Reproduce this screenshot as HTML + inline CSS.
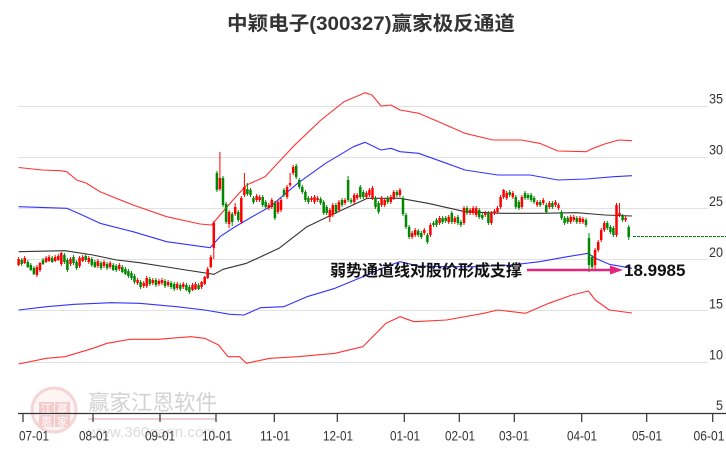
<!DOCTYPE html>
<html>
<head>
<meta charset="utf-8">
<style>
html,body{margin:0;padding:0;background:#fff;}
svg{display:block;}
</style>
</head>
<body>
<svg width="726" height="450" viewBox="0 0 726 450" xmlns="http://www.w3.org/2000/svg">
<rect width="726" height="450" fill="#fff"/>

<!-- watermark -->
<g>
<circle cx="54" cy="410" r="22" fill="#fdf4f4" stroke="#f5d6d6" stroke-width="3"/>
<rect x="39" y="402" width="15" height="12" fill="#f5cccc"/>
<rect x="55" y="402" width="15" height="12" fill="#f5cccc"/>
<rect x="39" y="415" width="15" height="12" fill="#f5cccc"/>
<rect x="55" y="415" width="15" height="12" fill="#f5cccc"/>
<g font-family="'Noto Sans CJK SC',sans-serif" font-size="11" fill="#fff" text-anchor="middle">
<text x="46.5" y="412.5">江</text><text x="62.5" y="412.5">赢</text>
<text x="46.5" y="425.5">恩</text><text x="62.5" y="425.5">家</text>
</g>
<text x="88" y="410" font-family="'Liberation Sans','Noto Sans CJK SC',sans-serif" font-size="21.5" fill="#d2d2d2">赢家江恩软件</text>
<line x1="88" y1="419" x2="216" y2="419" stroke="#eed0d0" stroke-width="2"/>
<text x="88" y="437" font-family="'Liberation Sans',sans-serif" font-size="15" fill="#dcdcdc" textLength="128" lengthAdjust="spacingAndGlyphs">www.360gann.com</text>
</g>

<!-- grid -->
<g stroke="#e2e2e2" stroke-width="1">
<line x1="18" y1="106.5" x2="708" y2="106.5"/>
<line x1="18" y1="157.5" x2="708" y2="157.5"/>
<line x1="18" y1="208.5" x2="708" y2="208.5"/>
<line x1="18" y1="259.5" x2="708" y2="259.5"/>
<line x1="18" y1="310.5" x2="708" y2="310.5"/>
<line x1="18" y1="362.5" x2="708" y2="362.5"/>
</g>

<!-- y labels -->
<g font-family="'Liberation Sans',sans-serif" font-size="14" fill="#333" text-anchor="end">
<text x="723" y="103.5" textLength="14" lengthAdjust="spacingAndGlyphs">35</text>
<text x="723" y="154.7" textLength="14" lengthAdjust="spacingAndGlyphs">30</text>
<text x="723" y="205.8" textLength="14" lengthAdjust="spacingAndGlyphs">25</text>
<text x="723" y="257" textLength="14" lengthAdjust="spacingAndGlyphs">20</text>
<text x="723" y="308.3" textLength="14" lengthAdjust="spacingAndGlyphs">15</text>
<text x="723" y="359.5" textLength="14" lengthAdjust="spacingAndGlyphs">10</text>
<text x="723" y="410" textLength="7" lengthAdjust="spacingAndGlyphs">5</text>
</g>

<!-- channel lines -->
<g fill="none" stroke-width="1.1" stroke-linejoin="round">
<polyline stroke="#f33" points="18.6,167.5 41.9,170 60.5,170.7 66.7,171.7 76.7,180 86,183 100,191.7 133,205 166.7,216.7 200,224 211.7,225 220,215 233,200 246.7,185 265,176.7 293,146.7 321,120 344,101.7 365,92.7 372,95 381,106 391,105 400,110 418.6,113.3 442,123.3 465,133.3 493,140 521,140 539.5,143.3 558,151 586,151.7 593,148.3 604.7,144 618.6,140 632,140.7"/>
<polyline stroke="#33f" points="18.6,206.7 66.7,208.3 80,214 100,223.3 133,231.7 166.7,241.7 210,247.7 220,236.7 233,228 250,218 270,206.7 297.7,183.3 325.6,163.3 353.5,146.7 365,142.3 381,150 391,148.3 400,151.7 418.6,153.3 446.5,163.3 465,170 497.7,175 530,175 558,180 586,179 614,176.7 632,175.7"/>
<polyline stroke="#333" points="18.6,251.7 65,250.7 93,255 116.7,260 139.5,262.7 186,270 214,274.3 223,269.3 246.5,263.3 279,248.3 307,226.7 335,213.3 367.4,198.3 400,198.3 428,203.3 465,211.7 502,213.3 539.5,213.3 576.7,212.7 604.7,215 632,216"/>
<polyline stroke="#33f" points="18.6,310 46.5,306.7 74.4,304.3 111.6,302.7 139.5,303.3 176.7,306.7 204.7,310 230,314.3 244,315 260.5,307.7 283.7,306.7 307,296.7 335,288.3 362.8,276.7 386,266.7 400,261.7 418.6,266 446.5,266.7 474.4,266.7 511.6,265 539.5,261.7 567.4,256.7 588.4,253.3 595.3,258.3 609.3,264.3 632,268.3"/>
<polyline stroke="#f33" points="18.6,364 46.5,358.3 65,356.7 93,348.3 107,343.3 130,339.3 158,339.3 190.7,336.7 204.7,338.3 218.6,345 228,356.7 239.5,356.7 246.5,363.3 270,358.3 297.7,356.7 335,353.3 362.8,346.7 386,323.3 400,316.7 414,321.7 446.5,320 483.7,313.3 497.7,310 525.6,313.3 548.8,303.3 572,295 588.4,291 595.3,300 609.3,310 632,313"/>
</g>

<!-- candles -->
<path fill="none" stroke="#f00" stroke-width="1" d="M18.6 257V266M24.7 256V264M36.9 265V277M40 262V272M46.1 256V263M49.1 255V262M55.2 255V262M58.3 254V261M61.3 252V266M70.5 257V266M79.6 256V268M82.7 255V262M88.8 256V264M97.9 259V268M104 260V268M110.1 261V269M119.3 263V271M137.6 278V285M143.7 281V288M146.7 276V288M152.8 278V285M158.9 279V286M162 278V285M168.1 280V287M177.2 282V290M183.3 282V289M192.5 283V291M195.5 282V290M201.6 281V289M204.7 276V285M207.7 267V279M210.8 255V268M213.8 221V259M219.9 152V191M229.1 210V228M235.2 203V216M241.3 196V224M244.4 173V197M256.6 194V202M259.6 195V202M268.8 203V210M271.8 198V209M277.9 200V214M281 198V212M287.1 185V199M290.1 173V187M293.2 165V175M311.5 196V202M314.5 195V204M317.6 196V202M329.8 208V222M332.8 203V217M338.9 200V212M345 198V205M354.2 193V204M357.2 193V200M366.4 191V199M369.4 188V197M372.5 186V200M381.6 196V207M384.7 198V207M390.8 195V204M393.8 190V200M399.9 188V197M412.1 231V239M415.2 228V237M424.3 228V235M430.4 223V237M439.6 216V225M448.7 215V224M454.8 216V224M464 206V225M470.1 208V215M473.1 206V215M476.2 206V217M485.3 211V217M491.4 211V225M494.5 209V215M497.5 206V214M500.6 195V209M503.6 189V199M506.7 191V200M512.8 191V199M521.9 195V209M537.2 200V207M543.3 198V205M549.4 201V209M555.5 200V207M558.5 203V210M570.7 215V224M573.8 215V222M579.9 216V224M582.9 217V224M595.1 248V271M598.2 240V252M601.2 228V242M604.3 221V232M616.5 203V237M619.5 203V217M625.6 216V222"/>
<path fill="none" stroke="#f00" stroke-width="2.5" d="M18.6 259V265M24.7 258V263M36.9 267V275M40 263V270M46.1 258V262M49.1 257V261M55.2 257V261M58.3 256V260M61.3 253V264M70.5 259V264M79.6 258V266M82.7 257V261M88.8 258V262M97.9 261V266M104 262V266M110.1 263V267M119.3 265V269M137.6 280V283M143.7 283V286M146.7 278V286M152.8 280V283M158.9 281V284M162 280V283M168.1 282V285M177.2 284V288M183.3 284V287M192.5 285V290M195.5 284V289M201.6 282V287M204.7 277V284M207.7 269V278M210.8 257V267M213.8 223V248M219.9 178V189M229.1 212V224M235.2 207V214M241.3 198V222M244.4 187V195M256.6 196V200M259.6 197V200M268.8 205V208M271.8 200V207M277.9 202V212M281 200V210M287.1 187V197M290.1 183V185M293.2 167V173M311.5 198V200M314.5 197V202M317.6 198V200M329.8 210V217M332.8 205V215M338.9 202V210M345 200V203M354.2 195V202M357.2 195V198M366.4 193V197M369.4 190V195M372.5 188V198M381.6 198V205M384.7 200V205M390.8 197V202M393.8 192V198M399.9 190V195M412.1 233V237M415.2 230V235M424.3 230V233M430.4 225V235M439.6 218V223M448.7 217V222M454.8 218V222M464 208V223M470.1 210V213M473.1 208V213M476.2 208V215M485.3 213V215M491.4 213V223M494.5 211V213M497.5 208V212M500.6 197V207M503.6 190V197M506.7 193V198M512.8 193V197M521.9 197V207M537.2 202V205M543.3 200V203M549.4 203V207M555.5 202V205M558.5 205V208M570.7 217V222M573.8 217V220M579.9 218V222M582.9 219V222M595.1 250V265M598.2 242V250M601.2 230V240M604.3 223V230M616.5 205V235M619.5 213V215M625.6 218V220"/>
<path fill="none" stroke="#080" stroke-width="1" d="M21.7 258V266M27.8 260V268M30.8 263V271M33.9 266V275M43 258V265M52.2 256V263M64.4 253V264M67.4 258V272M73.5 255V265M76.6 260V270M85.7 254V262M91.8 257V267M94.9 260V268M101 261V270M107.1 262V270M113.2 263V271M116.2 264V272M122.3 265V273M125.4 267V275M128.4 269V278M131.5 271V280M134.5 274V284M140.6 280V289M149.8 277V286M155.9 278V287M165 279V288M171.1 281V289M174.2 282V291M180.3 283V291M186.4 283V291M189.4 285V294M198.6 283V290M216.9 171V192M223 176V207M226.1 202V224M232.2 212V226M238.3 210V222M247.4 183V196M250.5 188V197M253.5 196V204M262.7 195V207M265.7 200V209M274.9 201V220M284 188V197M296.2 164V179M299.3 178V189M302.3 185V194M305.4 190V202M308.4 196V204M320.6 197V205M323.7 200V215M326.7 205V215M335.9 203V214M342 198V207M348.1 176V202M351.1 198V204M360.3 185V199M363.3 190V199M375.5 196V209M378.6 201V214M387.7 196V204M396.9 190V197M403 196V216M406 213V229M409.1 225V239M418.2 229V237M421.3 231V239M427.4 233V244M433.5 221V227M436.5 218V227M442.6 216V224M445.7 216V223M451.8 211V224M457.9 215V225M460.9 220V227M467 206V215M479.2 208V219M482.3 213V220M488.4 211V225M509.7 190V197M515.8 195V209M518.9 200V210M525 191V200M528 193V200M531.1 193V202M534.1 196V204M540.2 200V207M546.3 203V214M552.4 201V209M561.6 210V220M564.6 216V225M567.7 216V224M576.8 216V224M586 218V227M589 233V272M592.1 255V270M607.3 221V230M610.4 225V234M613.4 226V237M622.6 214V222M628.7 225V240"/>
<path fill="none" stroke="#080" stroke-width="2.5" d="M21.7 260V264M27.8 262V267M30.8 265V270M33.9 268V274M43 260V264M52.2 258V262M64.4 255V262M67.4 260V270M73.5 257V263M76.6 262V268M85.7 256V260M91.8 259V265M94.9 262V267M101 263V268M107.1 264V268M113.2 265V270M116.2 266V270M122.3 267V272M125.4 269V274M128.4 271V276M131.5 273V278M134.5 276V282M140.6 282V287M149.8 279V284M155.9 280V285M165 281V286M171.1 283V287M174.2 284V289M180.3 285V289M186.4 285V290M189.4 287V292M198.6 285V289M216.9 173V190M223 178V205M226.1 204V222M232.2 214V222M238.3 212V220M247.4 189V194M250.5 190V195M253.5 198V202M262.7 197V205M265.7 202V207M274.9 203V218M284 190V195M296.2 166V177M299.3 180V187M302.3 187V192M305.4 192V200M308.4 198V202M320.6 199V203M323.7 202V213M326.7 207V213M335.9 205V212M342 200V205M348.1 180V200M351.1 200V202M360.3 187V197M363.3 192V197M375.5 198V207M378.6 203V212M387.7 198V202M396.9 192V195M403 198V214M406 215V227M409.1 227V237M418.2 231V235M421.3 233V237M427.4 235V242M433.5 223V225M436.5 220V225M442.6 218V222M445.7 218V221M451.8 213V222M457.9 217V223M460.9 222V225M467 208V213M479.2 210V217M482.3 215V218M488.4 213V223M509.7 192V195M515.8 197V207M518.9 202V208M525 193V198M528 195V198M531.1 195V200M534.1 198V202M540.2 202V205M546.3 205V212M552.4 203V207M561.6 212V218M564.6 218V223M567.7 218V222M576.8 218V222M586 220V225M589 238V265M592.1 257V267M607.3 223V228M610.4 227V232M613.4 228V235M622.6 216V220M628.7 227V237"/>

<!-- dotted projection -->
<line x1="633" y1="236.5" x2="726" y2="236.5" stroke="#080" stroke-width="1" stroke-dasharray="3,1"/>

<!-- annotation -->
<text x="330" y="276" font-family="'Liberation Sans','Noto Sans CJK SC',sans-serif" font-size="16" font-weight="bold" fill="#111">弱势通道线对股价形成支撑</text>
<line x1="527" y1="270" x2="613" y2="270" stroke="#e3247c" stroke-width="2.5"/>
<polygon points="610,265.5 623,270 610,274.5" fill="#e3247c"/>
<text x="624" y="276" font-family="'Liberation Sans',sans-serif" font-size="17" font-weight="bold" fill="#111">18.9985</text>

<!-- x axis -->
<line x1="18" y1="413.5" x2="726" y2="413.5" stroke="#333" stroke-width="1.2"/>
<path stroke="#333" stroke-width="1.2" fill="none" d="M23 413V422M93 413V422M160 413V422M216 413V422M274.3 413V422M337.3 413V422M404.3 413V422M459.3 413V422M514.3 413V422M581.7 413V422M646.7 413V422M712.7 413V422"/>
<g font-family="'Liberation Sans',sans-serif" font-size="14" fill="#333" text-anchor="middle">
<text x="34" y="440.5" textLength="30" lengthAdjust="spacingAndGlyphs">07-01</text>
<text x="94" y="440.5" textLength="30" lengthAdjust="spacingAndGlyphs">08-01</text>
<text x="160" y="440.5" textLength="30" lengthAdjust="spacingAndGlyphs">09-01</text>
<text x="217" y="440.5" textLength="30" lengthAdjust="spacingAndGlyphs">10-01</text>
<text x="275" y="440.5" textLength="30" lengthAdjust="spacingAndGlyphs">11-01</text>
<text x="338" y="440.5" textLength="30" lengthAdjust="spacingAndGlyphs">12-01</text>
<text x="405" y="440.5" textLength="30" lengthAdjust="spacingAndGlyphs">01-01</text>
<text x="460" y="440.5" textLength="30" lengthAdjust="spacingAndGlyphs">02-01</text>
<text x="514" y="440.5" textLength="30" lengthAdjust="spacingAndGlyphs">03-01</text>
<text x="582" y="440.5" textLength="30" lengthAdjust="spacingAndGlyphs">04-01</text>
<text x="647" y="440.5" textLength="30" lengthAdjust="spacingAndGlyphs">05-01</text>
<text x="709" y="440.5" textLength="31" lengthAdjust="spacingAndGlyphs">06-01</text>
</g>

<!-- title -->
<text x="371" y="30" text-anchor="middle" font-family="'Liberation Sans','Noto Sans CJK SC',sans-serif" font-size="19.5" font-weight="bold" fill="#333" textLength="288" lengthAdjust="spacingAndGlyphs">中颖电子(300327)赢家极反通道</text>
</svg>
</body>
</html>
